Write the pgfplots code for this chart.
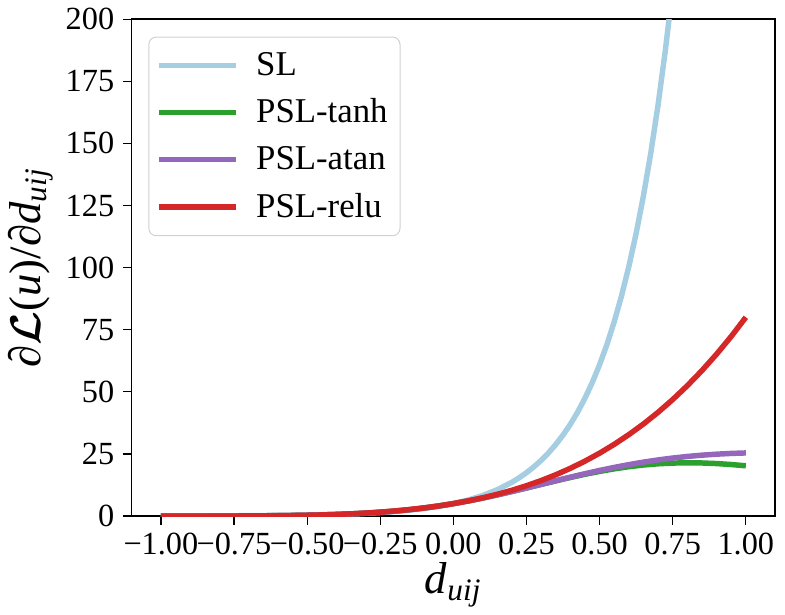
\documentclass[border=0pt]{standalone}
\usepackage{amsmath}
\usepackage{fontspec}
\setmainfont{Liberation Serif}
\usepackage{pgfplots}
\pgfplotsset{compat=1.18}
\definecolor{slblue}{HTML}{A6CEE3}
\definecolor{tgreen}{HTML}{2CA02C}
\definecolor{apurple}{HTML}{9467BD}
\definecolor{rred}{HTML}{D62728}

\begin{document}
\begin{tikzpicture}
\begin{axis}[
    scale only axis,
    width=259pt, height=200pt,
    xmin=-1.1, xmax=1.1,
    ymin=0, ymax=200,
    xtick={-1,-0.75,-0.5,-0.25,0,0.25,0.5,0.75,1},
    xticklabels={−1.00,−0.75,−0.50,−0.25,0.00,0.25,0.50,0.75,1.00},
    ytick={0,25,50,75,100,125,150,175,200},
    /pgf/number format/assume math mode=true,
    tick label style={font=\fontsize{13}{15}\selectfont},
    xticklabel style={inner xsep=0pt},
    tick align=outside,
    xtick pos=left, ytick pos=left,
    major tick length=3.5pt,
    every tick/.style={black, line width=0.5pt},
    axis line style={line width=0.6pt},
    xlabel={\textit{d}\textsubscript{\textit{uij}}},
    ylabel={∂$\boldsymbol{\mathcal{L}}$(\textit{u})/∂\textit{d}\textsubscript{\textit{uij}}},
    label style={font=\fontsize{18}{20}\selectfont},
    xlabel style={yshift=4pt},
    ylabel style={yshift=-2pt},
    legend cell align=left,
    legend style={at={(0.026,0.965)}, anchor=north west,
        draw=black!18, rounded corners=3pt,
        font=\fontsize{14}{17}\selectfont,
        row sep=4pt, inner xsep=3pt, inner ysep=4pt},
    legend image code/.code={\draw[#1, line width=2.2pt] (0pt,0pt) -- (31pt,0pt); \path (36pt,0pt);},
    every axis plot/.append style={line width=2.2pt, line join=round},
]
\addplot[slblue] coordinates {
(-1,0.0337) (-0.95,0.0433) (-0.9,0.0555) (-0.85,0.0713) (-0.8,0.0916)
(-0.75,0.1176) (-0.7,0.1510) (-0.65,0.1939) (-0.6,0.2489) (-0.55,0.3196)
(-0.5,0.4104) (-0.45,0.5270) (-0.4,0.6767) (-0.35,0.8689) (-0.3,1.1157)
(-0.25,1.4325) (-0.2,1.8394) (-0.15,2.3618) (-0.1,3.0327) (-0.05,3.8940)
(0,5) (0.05,6.4201) (0.1,8.2436) (0.15,10.585) (0.2,13.591) (0.225,15.401)
(0.25,17.452) (0.275,19.775) (0.3,22.408) (0.325,25.392) (0.35,28.773)
(0.375,32.604) (0.4,36.945) (0.425,41.865) (0.45,47.439) (0.475,53.755)
(0.5,60.912) (0.525,69.023) (0.55,78.213) (0.575,88.627) (0.6,100.43)
(0.625,113.80) (0.65,128.95) (0.675,146.11) (0.7,165.58) (0.725,187.62)
(0.75,212.61) (0.8,272.99)
};
\addlegendentry{SL}
\addplot[tgreen] coordinates {
(-1,0.0068) (-0.95,0.0104) (-0.9,0.0158) (-0.85,0.0238) (-0.8,0.0356)
(-0.75,0.0528) (-0.7,0.0778) (-0.65,0.1133) (-0.6,0.1634) (-0.55,0.2333)
(-0.5,0.3292) (-0.45,0.4591) (-0.4,0.6322) (-0.35,0.8601) (-0.3,1.1542)
(-0.25,1.5280) (-0.2,1.9942) (-0.15,2.5657) (-0.1,3.2528) (-0.05,4.0630)
(0,5) (0.05,6.0614) (0.1,7.2390) (0.15,8.5179) (0.2,9.8772)
(0.25,11.289) (0.3,12.723) (0.35,14.143) (0.4,15.514) (0.45,16.800)
(0.5,17.970) (0.55,18.997) (0.6,19.858) (0.65,20.539) (0.7,21.028)
(0.75,21.325) (0.8,21.434) (0.85,21.363) (0.9,21.126) (0.95,20.740)
(1,20.223)
};
\addlegendentry{PSL-tanh}
\addplot[apurple] coordinates {
(-1,0.0053) (-0.95,0.0088) (-0.9,0.0141) (-0.85,0.0221) (-0.8,0.0341)
(-0.75,0.0517) (-0.7,0.0771) (-0.65,0.1132) (-0.6,0.1640) (-0.55,0.2346)
(-0.5,0.3311) (-0.45,0.4613) (-0.4,0.6348) (-0.35,0.8624) (-0.3,1.1562)
(-0.25,1.5292) (-0.2,1.9951) (-0.15,2.5659) (-0.1,3.2526) (-0.05,4.0630)
(0,5) (0.05,6.0615) (0.1,7.2395) (0.15,8.5196) (0.2,9.8830)
(0.25,11.305) (0.3,12.760) (0.35,14.219) (0.4,15.656) (0.45,17.042)
(0.5,18.357) (0.55,19.582) (0.6,20.702) (0.65,21.706) (0.7,22.590)
(0.75,23.349) (0.8,23.986) (0.85,24.503) (0.9,24.908) (0.95,25.206)
(1,25.404)
};
\addlegendentry{PSL-atan}
\addplot[rred] coordinates {
(-1,0) (-0.95,0.0000) (-0.9,0.0005) (-0.85,0.0025) (-0.8,0.008)
(-0.75,0.0195) (-0.7,0.0405) (-0.65,0.0750) (-0.6,0.128) (-0.55,0.2050)
(-0.5,0.3125) (-0.45,0.4575) (-0.4,0.648) (-0.35,0.8925) (-0.3,1.2005)
(-0.25,1.5820) (-0.2,2.048) (-0.15,2.6100) (-0.1,3.2805) (-0.05,4.0725)
(0,5) (0.05,6.0775) (0.1,7.3205) (0.15,8.745) (0.2,10.368)
(0.25,12.207) (0.3,14.2805) (0.35,16.6075) (0.4,19.208) (0.45,22.1025)
(0.5,25.3125) (0.55,28.86) (0.6,32.768) (0.65,37.06) (0.7,41.7605)
(0.75,46.8945) (0.8,52.488) (0.85,58.5675) (0.9,65.1605) (0.95,72.295)
(1,80)
};
\addlegendentry{PSL-relu}
\end{axis}
\path (current axis.east) ++(4pt,0pt);
\end{tikzpicture}
\end{document}
